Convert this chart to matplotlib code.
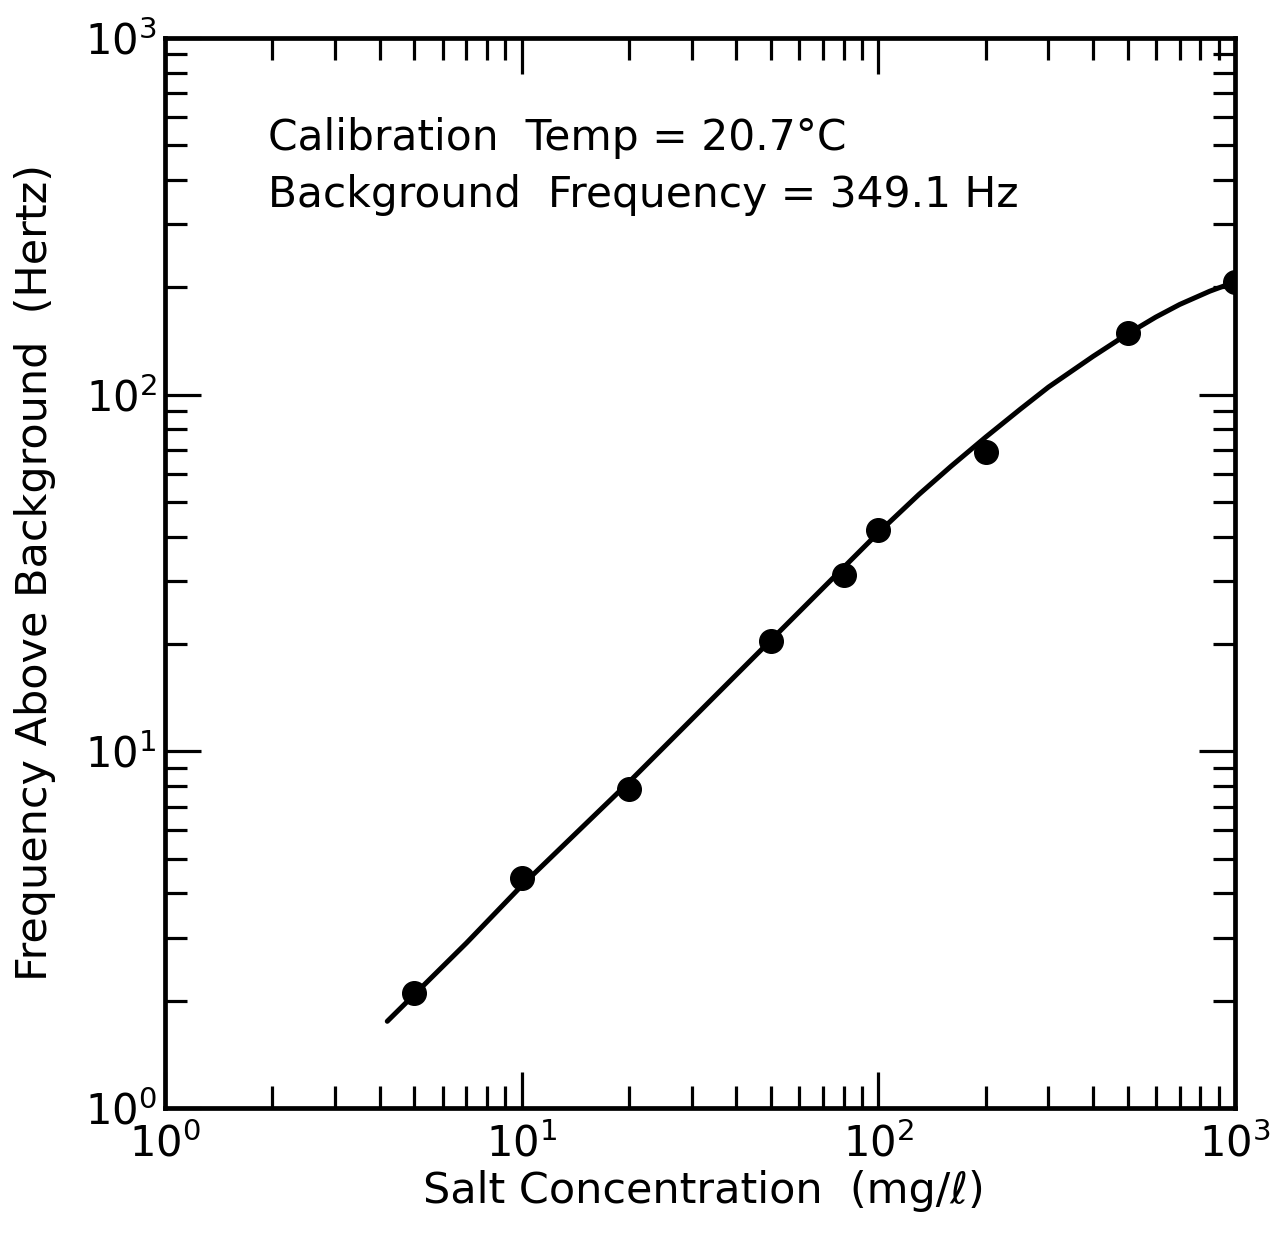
import matplotlib
matplotlib.use("Agg")
import matplotlib.pyplot as plt
from matplotlib.ticker import LogLocator, NullFormatter

# measured calibration points
salt_conc = [5, 10, 20, 50, 80, 100, 200, 500, 1000]
freq_shift = [2.1, 4.4, 7.85, 20.4, 31.2, 41.7, 69.0, 149, 207]

# hand-drawn calibration curve, read at these concentrations
curve_conc = [4.2, 7, 10, 20, 30, 50, 70, 100, 130, 160, 200, 250, 300,
              400, 500, 600, 700, 850, 1000]
curve_freq = [1.75, 2.9, 4.2, 8.2, 12.3, 20.5, 28.7, 41, 52.5, 63, 76, 91, 105,
              128, 148, 165, 179, 195, 207]

plt.rcParams['font.family'] = ['DejaVu Sans']
plt.rcParams['mathtext.fontset'] = 'dejavusans'

fig = plt.figure(figsize=(12.82, 12.37), dpi=100)
ax = fig.add_axes([0.1287, 0.1043, 0.8346, 0.865])

ax.plot(curve_conc, curve_freq, color='black', lw=3.6,
        solid_capstyle='round', solid_joinstyle='round', zorder=2)
ax.plot(salt_conc, freq_shift, 'o', color='black', ms=17, zorder=3)

ax.set_xscale('log')
ax.set_yscale('log')
ax.set_xlim(1, 1000)
ax.set_ylim(1, 1000)

for a in (ax.xaxis, ax.yaxis):
    a.set_major_locator(LogLocator(base=10))
    a.set_minor_locator(LogLocator(base=10, subs=range(2, 10)))
    a.set_minor_formatter(NullFormatter())

ax.tick_params(which='both', direction='in', top=True, right=True,
               width=2.3, color='black')
ax.tick_params(which='major', length=26, labelsize=30, pad=6)
ax.tick_params(which='minor', length=16)
ax.tick_params(axis='x', which='major', pad=11)
for s in ax.spines.values():
    s.set_linewidth(3.4)

ax.set_xlabel('Salt Concentration  (mg/ℓ)', fontsize=31, va='center')
ax.xaxis.set_label_coords(0.504, -0.078)
ax.set_ylabel('Frequency Above Background  (Hertz)', fontsize=31, va='center')
ax.yaxis.set_label_coords(-0.1215, 0.5)

ax.text(0.0963, 0.8953, 'Calibration  Temp = 20.7°C', transform=ax.transAxes,
        fontsize=30.5, va='baseline', ha='left')
ax.text(0.0963, 0.842, 'Background  Frequency = 349.1 Hz', transform=ax.transAxes,
        fontsize=30.5, va='baseline', ha='left')

fig.savefig('out.png', dpi=100, facecolor='white')
